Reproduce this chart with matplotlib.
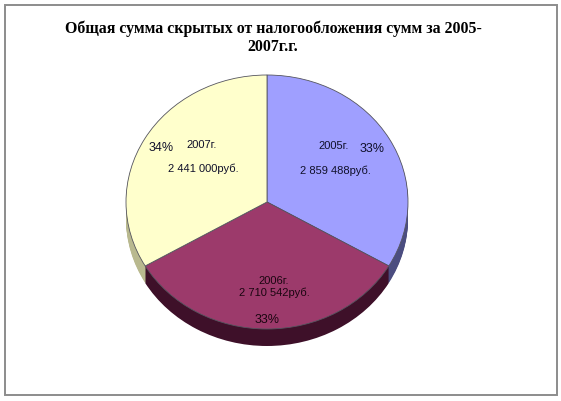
import matplotlib
matplotlib.use('Agg')
import matplotlib.pyplot as plt
from matplotlib.patches import Rectangle

W, H = 561, 401

# Доли секторов (как нарисовано) и подписи
years = ['2005г.', '2006г.', '2007г.']
amounts = ['2 859 488руб.', '2 710 542руб.', '2 441 000руб.']
percents = ['33%', '33%', '34%']
shares = [33.4, 33.2, 33.4]
title = 'Общая сумма скрытых от налогообложения сумм за 2005-\n2007г.г.'

top_colors = ['#9f9fff', '#9c3a6b', '#ffffcc']
side_colors = ['#4b4d80', '#3e1029', '#b9b98f']

plt.rcParams['font.family'] = ['Liberation Sans', 'DejaVu Sans']

fig = plt.figure(figsize=(W / 100, H / 100), dpi=100, facecolor='white')


def px_text(x, y, s, **kw):
    fig.text(x / W, 1 - y / H, s, ha='center', va='center', **kw)


# Рамка (под осями)
fig.add_artist(Rectangle((5 / W, 1 - 395 / H), 552 / W, 390 / H, transform=fig.transFigure,
                         facecolor='white', edgecolor='#8c8c8c', linewidth=1.4, zorder=-1))

# Оси: эллипс с центром (267, 202), полуоси 141 и 127 пикселей
cx, cy, rx, ry, depth = 267, 202, 141, 127, 17
ax = fig.add_axes([(cx - rx) / W, 1 - (cy + ry + depth) / H,
                   2 * rx / W, (2 * ry + depth) / H])

# Боковая стенка: тот же пирог, сдвинутый вниз слоями
for d in range(depth, 0, -1):
    ax.pie(shares, colors=side_colors, startangle=90, counterclock=False,
           center=(0, -d / ry), radius=1)
ax.pie(shares, colors=top_colors, startangle=90, counterclock=False,
       radius=1, wedgeprops={'edgecolor': '#55555f', 'linewidth': 0.6})
ax.set_aspect('auto')
ax.set_xlim(-1, 1)
ax.set_ylim(-1 - depth / ry, 1)
ax.axis('off')

px_text(273, 29, title.split('\n')[0], fontsize=11.4, fontweight='bold', family='Liberation Serif')
px_text(273, 47, title.split('\n')[1], fontsize=11.4, fontweight='bold', family='Liberation Serif')

lab = dict(fontsize=8, color='#10102a')
pct = dict(fontsize=9, color='#10102a')
px_text(334, 146, years[0], **lab)
px_text(372, 149, percents[0], **pct)
px_text(335, 171, amounts[0], **lab)
px_text(274, 281, years[1], color='#1a0510', fontsize=8)
px_text(274, 293, amounts[1], color='#1a0510', fontsize=8)
px_text(267, 320, percents[1], color='#1a0510', fontsize=9)
px_text(202, 145, years[2], **lab)
px_text(161, 148, percents[2], **pct)
px_text(203, 169, amounts[2], **lab)

fig.savefig('out.png', dpi=100, facecolor='white')
